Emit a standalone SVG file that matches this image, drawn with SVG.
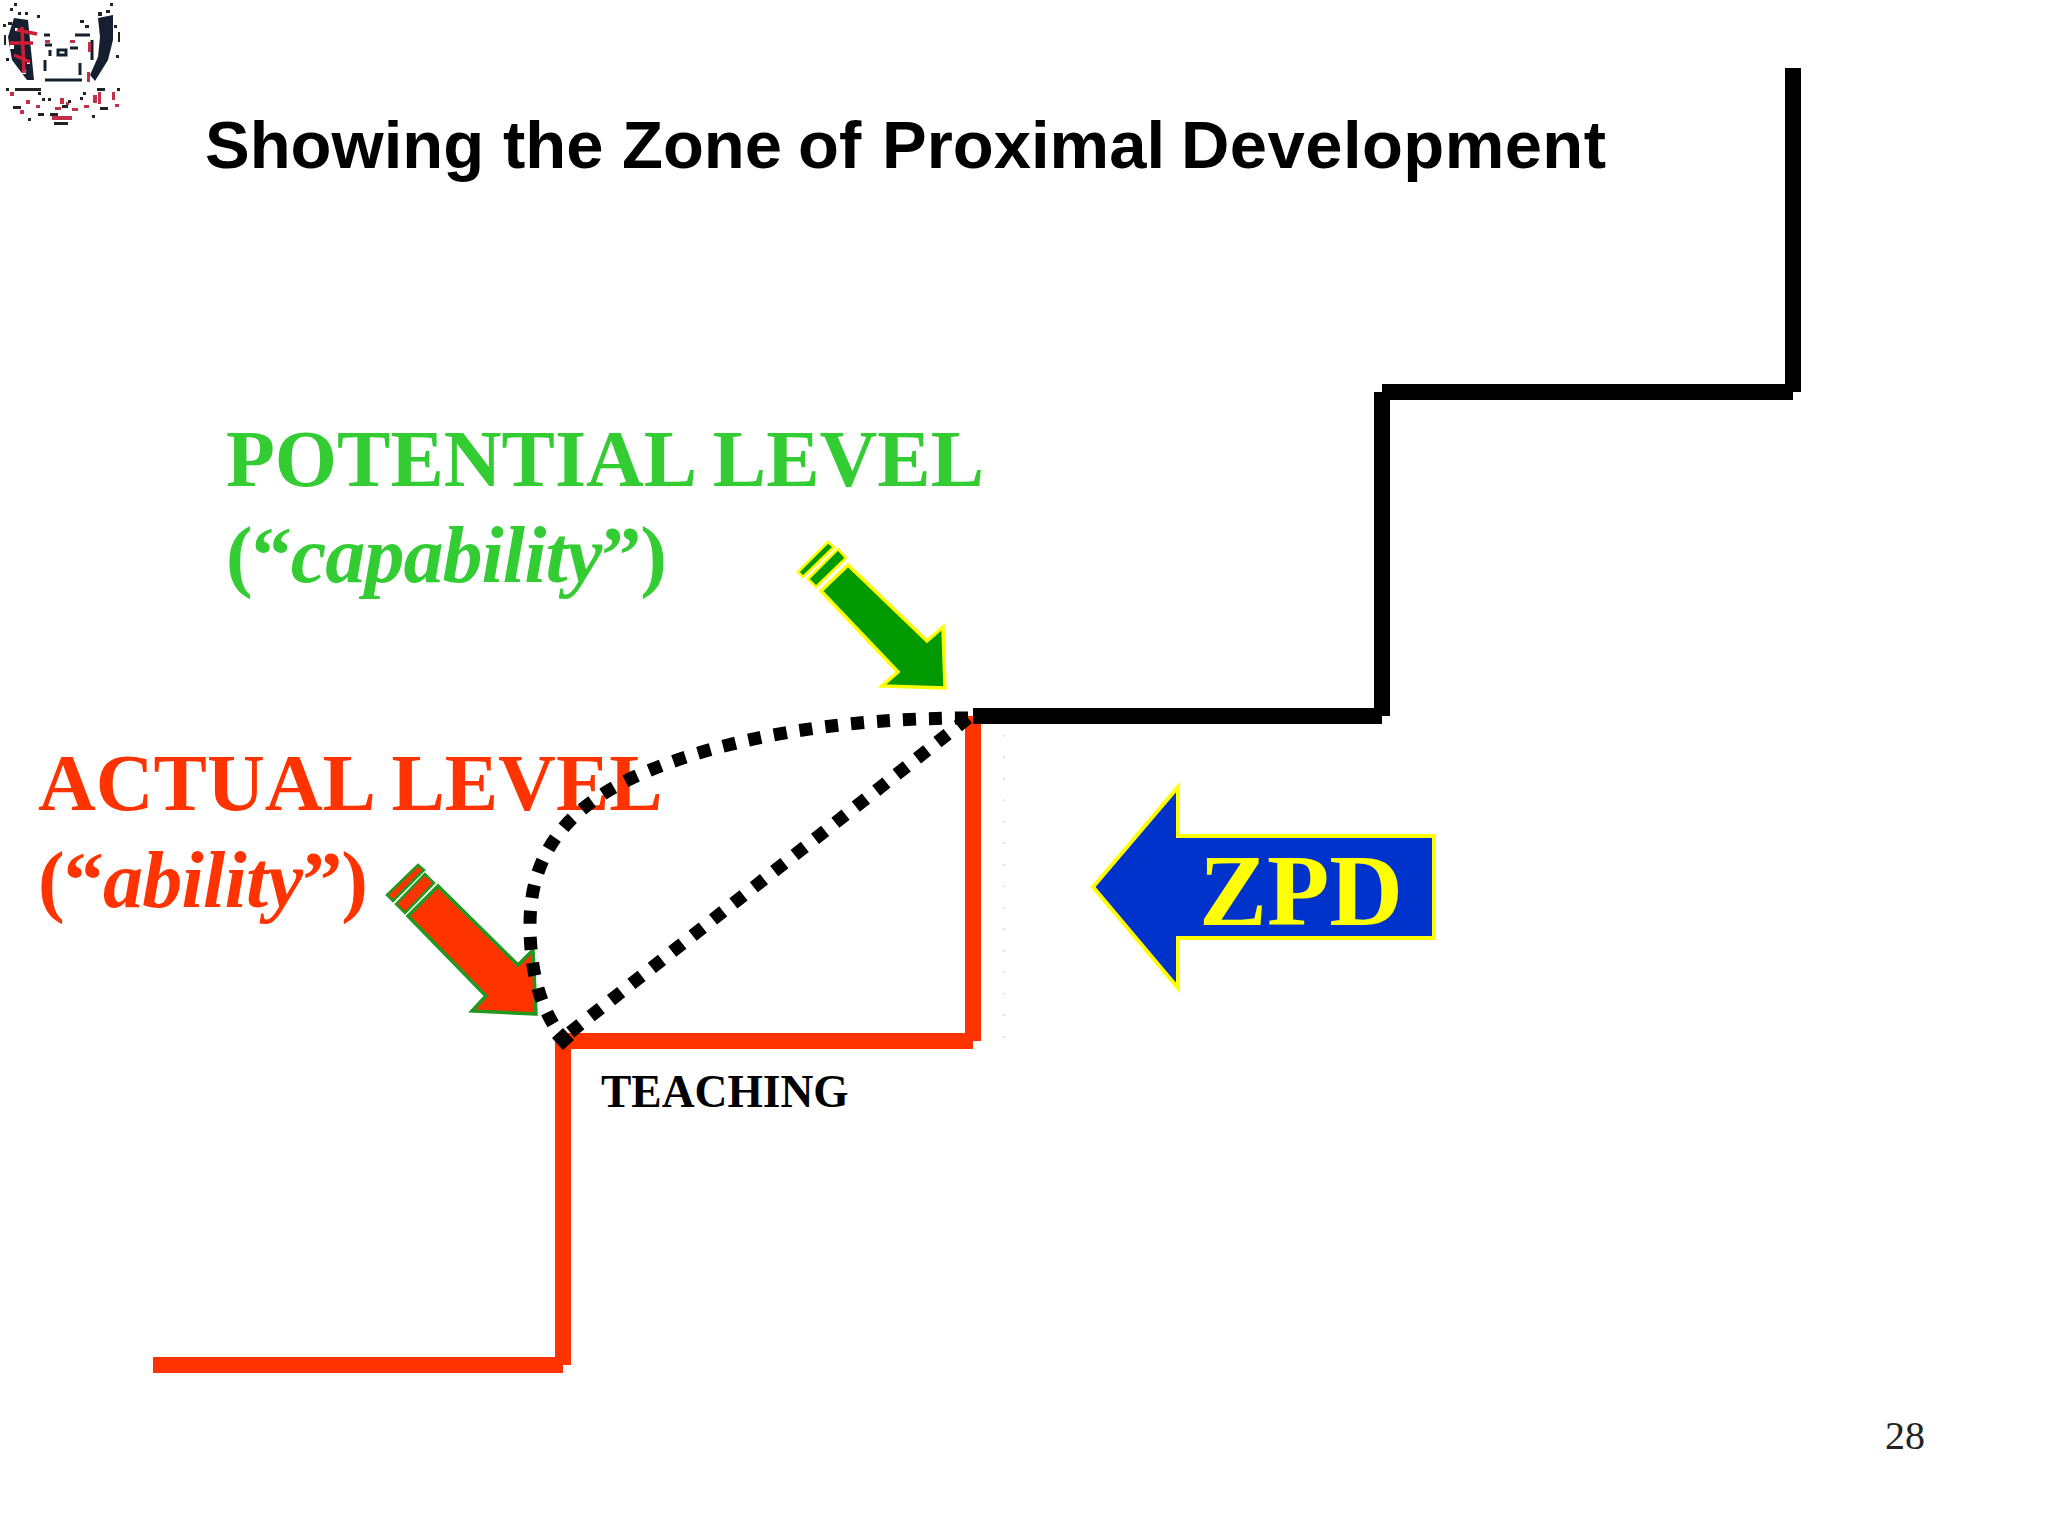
<svg xmlns="http://www.w3.org/2000/svg" width="2048" height="1536" viewBox="0 0 2048 1536">
<style>
.serif{font-family:"Liberation Serif","Times New Roman",serif;font-weight:700}
.green{fill:#33cc33}
.red{fill:#ff3300}
.step{fill:none;stroke-width:16;stroke-linecap:butt}
.dots{fill:none;stroke:#000;stroke-width:13;stroke-dasharray:13 13}
.garrow{fill:#009900;stroke:#ffff00;stroke-width:3.5}
.gband{fill:#009900;stroke:#ffff00;stroke-width:2.5}
.rarrow{fill:#ff3300;stroke:#1f991f;stroke-width:3.5}
.rband{fill:#ff3300;stroke:#1f991f;stroke-width:2.5}
</style>
<rect width="2048" height="1536" fill="#fff"/>
<g id="logo">
<path fill="#14202f" d="M14 18L28 20L31 50L34 80L27 80L12 60L8 37ZM98 18L113 15L113 40L108 60L95 81L90 75L98 57L100 37Z"/>
<path fill="#fff" d="M10 45h4v4h-4zM22 70h4v4h-4zM15 28h3v3h-3zM30 60h-3v4h3z"/>
<path fill="none" stroke="#d01c34" stroke-width="3.5" d="M22 27L24 73M10 43H33M17 30L37 34M14 55L30 62"/>
<path fill="none" stroke="#14202f" stroke-width="3" d="M45 80H82M45 60V71M80 63V75M50 50V56M58 50H66V55H58ZM70 48H78M45 45H52M75 35H90M50 35H44M92 40V60"/>
<path fill="#c23048" d="M88 42h3v10h-3zM87 72h3v10h-3zM93 95h4v8h-4zM98 92h3v12h-3zM52 116h20v4H52zM55 107h6v3h-6zM72 108h6v3h-6zM84 105h5v3h-5zM45 40h5v3h-5zM70 40h5v3h-5zM10 92h4v4h-4zM26 100h4v4h-4zM36 105h4v3h-4zM60 98h4v6h-4zM112 92h3v8h-3zM115 104h4v3h-4zM20 110h4v4h-4zM66 102h3v3h-3z"/>
<path fill="#222" d="M10 8h3v3h-3zM14 3h3v3h-3zM8 22h4v3H8zM3 24h3v3H3zM4 35h2v10H4zM18 12h3v3h-3zM25 12h3v3h-3zM37 15h3v3h-3zM110 3h3v3h-3zM98 12h4v4h-4zM106 10h4v3h-4zM80 20h4v3h-4zM85 25h4v3h-4zM114 25h3v3h-3zM118 32h2v10h-2zM116 55h3v3h-3zM6 58h3v3H6zM15 88h20v3H15zM35 88h6v3h-6zM38 92h3v3h-3zM42 98h3v3h-3zM48 98h3v3h-3zM62 105h6v3h-6zM68 100h3v3h-3zM38 113h6v3h-6zM50 113h8v3h-8zM54 122h14v3H54zM80 97h3v3h-3zM83 92h3v3h-3zM100 107h8v3h-8zM28 118h3v3h-3zM92 115h3v3h-3zM13 106h8v3h-8zM6 88h3v3H6zM117 88h3v3h-3zM97 88h8v3h-8z"/>
</g>
<text id="title" y="168" font-family="Liberation Sans,Arial,sans-serif" font-weight="700" font-size="67" fill="#000"><tspan x="205">Showing</tspan> <tspan x="503">the</tspan> <tspan x="622">Zone</tspan> <tspan x="798">of</tspan> <tspan x="882">Proximal</tspan> <tspan x="1181" textLength="425">Development</tspan></text>
<g id="potential-level">
<text class="serif green" x="226" y="486" font-size="80">POTENTIAL LEVEL</text>
<text class="serif green" x="226" y="582" font-size="80" textLength="441">(“<tspan font-style="italic">capability</tspan>”)</text>
<path class="garrow" d="M945 688L882 686L898 672L821 591L848 565L927 641L943 627Z"/>
<path class="gband" d="M808 579L838 549L846 558L816 587Z"/>
<path class="gband" d="M798 572L828 542L834 547L803 577Z"/>
</g>
<g id="actual-level">
<text class="serif red" x="38" y="810" font-size="80">ACTUAL LEVEL</text>
<text class="serif red" x="38" y="907" font-size="80" textLength="330">(“<tspan font-style="italic">ability</tspan>”)</text>
<path class="rarrow" d="M536 1014L472 1011L486 996L408 916L438 886L518 965L533 950Z"/>
<path class="rband" d="M396 904L425 874L434 883L405 913Z"/>
<path class="rband" d="M387 895L418 865L424 870L393 901Z"/>
</g>
<g id="connectors">
<path d="M1004 735V1040" fill="none" stroke="#cfcfcf" stroke-width="1.5" stroke-dasharray="1.5 20"/>
<path class="step" stroke="#ff3300" d="M153 1365H563M563 1365V1041M563 1041H973M973 1041V716"/>
<path class="step" stroke="#000" d="M973 716H1382M1382 716V392M1382 392H1793M1793 392V68"/>
<path class="dots" d="M968 718L563 1038"/>
<path class="dots" d="M968 718C840 718 720 738 634 777C560 812 530 860 530 925C530 970 540 1010 563 1038"/>
<path d="M563 1028L574 1040L563 1050L552 1038Z" fill="#000"/>
</g>
<g id="zpd">
<path d="M1093 887L1178 787V836H1434V938H1178V988Z" fill="#0033cc" stroke="#ffff00" stroke-width="4"/>
<text class="serif" x="1199" y="925" font-size="102" fill="#ffff00">ZPD</text>
</g>
<text id="teaching" class="serif" x="601" y="1107" font-size="45.5" fill="#000">TEACHING</text>
<text id="page-number" x="1885" y="1449" font-family="Liberation Serif,Times New Roman,serif" font-size="40" fill="#222">28</text>
</svg>
